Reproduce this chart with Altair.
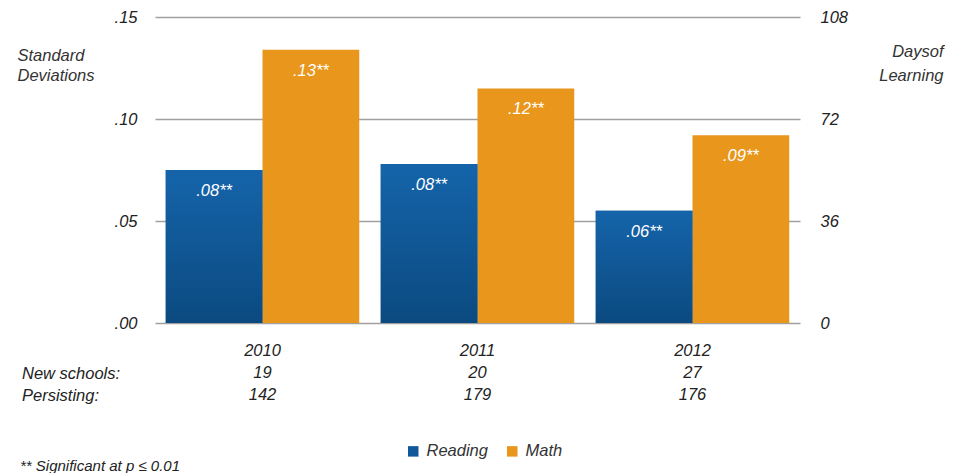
import altair as alt
import pandas as pd

years = ["2010", "2011", "2012"]
reading = [0.075, 0.078, 0.055]
math = [0.134, 0.115, 0.092]
reading_labels = [".08**", ".08**", ".06**"]
math_labels = [".13**", ".12**", ".09**"]
new_schools = ["19", "20", "27"]
persisting = ["142", "179", "176"]
sd_ticks = [0.0, 0.05, 0.10, 0.15]
day_ticks = [0, 36, 72, 108]
series = ["Reading", "Math"]
colors = ["#11589a", "#e8961c"]

rows = []
for i, y in enumerate(years):
    rows.append({"year": y, "series": "Reading", "value": reading[i], "label": reading_labels[i]})
    rows.append({"year": y, "series": "Math", "value": math[i], "label": math_labels[i]})
df = pd.DataFrame(rows)

FONT = "Liberation Sans, Arial"
FS = 16.5

# multi-line x labels: year / new schools / persisting
expr_parts = []
for i, y in enumerate(years):
    expr_parts.append(f"datum.label == '{y}' ? ['{y}', '{new_schools[i]}', '{persisting[i]}']")
label_expr = " : ".join(expr_parts) + " : datum.label"

x_enc = alt.X(
    "year:N",
    sort=years,
    scale=alt.Scale(paddingInner=0.1, paddingOuter=0.05),
    axis=alt.Axis(
        title=None, labelAngle=0, labelExpr=label_expr, labelLineHeight=22,
        labelFont=FONT, labelFontStyle="italic", labelFontSize=FS, labelColor="#222",
        labelPadding=19, ticks=False, domain=False, labelBaseline="top",
    ),
)
xoff = alt.XOffset("series:N", sort=series, scale=alt.Scale(paddingInner=0, paddingOuter=0))

y_scale = alt.Scale(domain=[0, 0.15], nice=False)
y_enc = alt.Y(
    "value:Q",
    scale=y_scale,
    axis=alt.Axis(
        values=sd_ticks, labelExpr="replace(format(datum.value, '.2f'), '0.', '.')",
        title=["Standard", "Deviations"], titleAngle=0, titleX=-138, titleY=38,
        titleAlign="left", titleBaseline="middle", titleLineHeight=20,
        titleFont=FONT, titleFontStyle="italic", titleFontWeight="normal", titleFontSize=FS, titleColor="#333",
        labelFont=FONT, labelFontStyle="italic", labelFontSize=FS, labelColor="#222",
        labelPadding=18, ticks=False, domain=False,
        grid=True, gridColor="#a0a0a0", gridWidth=1.5,
    ),
)

base = alt.Chart(df)

bars = base.mark_bar(stroke=None).encode(
    x=x_enc, xOffset=xoff, y=y_enc,
    color=alt.Color(
        "series:N", sort=series,
        scale=alt.Scale(domain=series, range=colors),
        legend=alt.Legend(
            title=None, orient="none", legendX=250, legendY=426, direction="horizontal",
            symbolType="square", symbolSize=110, symbolStrokeWidth=0,
            labelFont=FONT, labelFontStyle="italic", labelFontSize=FS, labelColor="#333",
            columnPadding=16, labelOffset=5,
        ),
    ),
)

grad = {
    "gradient": "linear", "x1": 0, "y1": 0, "x2": 0, "y2": 1,
    "stops": [{"offset": 0, "color": "#1564aa"}, {"offset": 1, "color": "#0b4a80"}],
}
reading_grad = base.transform_filter(alt.datum.series == "Reading").mark_bar(fill=grad).encode(
    x=x_enc, xOffset=xoff, y=y_enc,
)

labels = base.mark_text(
    color="white", font=FONT, fontStyle="italic", fontSize=FS, baseline="middle", dy=21,
).encode(x=x_enc, xOffset=xoff, y=y_enc, text="label:N")

row_heads = alt.Chart(pd.DataFrame({"t": ["New schools:\nPersisting:"]})).mark_text(
    align="left", baseline="middle", font=FONT, fontStyle="italic", fontSize=FS,
    color="#222", lineBreak="\n", lineHeight=22,
).encode(x=alt.value(-133), y=alt.value(357), text="t:N")

foot = alt.Chart(pd.DataFrame({"t": ["** Significant at p \u2264 0.01"]})).mark_text(
    align="left", baseline="middle", font=FONT, fontStyle="italic", fontSize=15, color="#222",
).encode(x=alt.value(-135), y=alt.value(449), text="t:N")

left = alt.layer(bars, reading_grad, labels, row_heads, foot)

right = alt.Chart(pd.DataFrame({"days": day_ticks})).mark_point(opacity=0).encode(
    y=alt.Y(
        "days:Q",
        scale=alt.Scale(domain=[0, 108], nice=False),
        axis=alt.Axis(
            orient="right", values=day_ticks, title=["Daysof", "Learning"], titleAngle=0,
            titleX=143, titleY=34, titleAlign="right", titleBaseline="middle", titleLineHeight=24,
            titleFont=FONT, titleFontStyle="italic", titleFontWeight="normal", titleFontSize=FS, titleColor="#333",
            labelFont=FONT, labelFontStyle="italic", labelFontSize=FS, labelColor="#222",
            labelPadding=20, ticks=False, domain=False, grid=False,
        ),
    )
)

chart = alt.layer(left, right).resolve_scale(y="independent").properties(
    width=645, height=306,
    autosize=alt.AutoSizeParams(type="none"),
    padding={"left": 147, "top": 9, "right": 145, "bottom": 150},
).configure_view(stroke=None)

chart.save("out.html", embed_options={"renderer": "svg", "actions": False})
